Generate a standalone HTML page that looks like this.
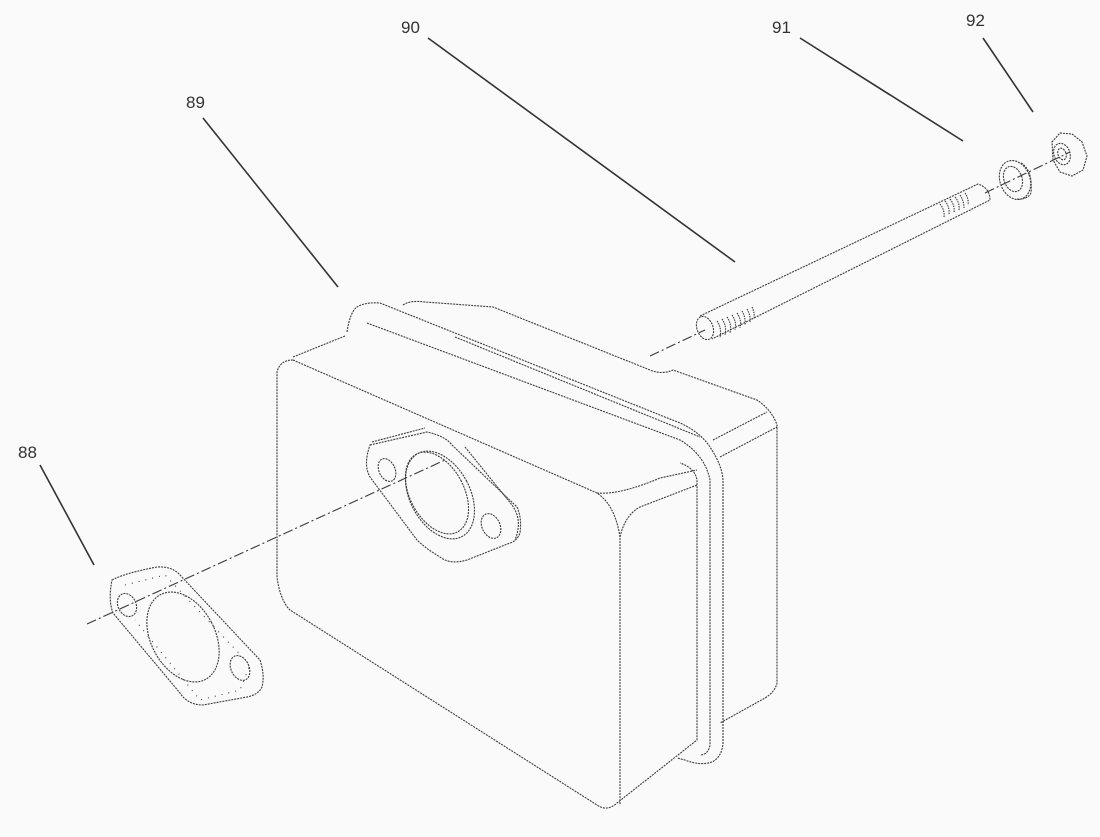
<!DOCTYPE html>
<html><head><style>
html,body{margin:0;padding:0;background:#fafafa;}
svg{display:block}
text{font-family:"Liberation Sans",sans-serif;font-size:17px;fill:#333}
</style></head><body>
<svg width="1100" height="837" viewBox="0 0 1100 837" xmlns="http://www.w3.org/2000/svg">
<rect width="1100" height="837" fill="#fafafa"/>
<g fill="none" stroke="#3a3a3a" stroke-width="1.1" stroke-dasharray="2,1">
<!-- back body -->
<path d="M403,305 Q410,300 425,302 L493,307 L650,370 Q662,375 673,370 L757,400 Q772,410 777,425 L777,683 Q775,692 765,698 L720,723"/>
<path d="M713,440 L767,412"/><path d="M720,457 L777,427"/>
<!-- flange outer -->
<path d="M347,332 Q350,312 357,307 Q365,302 380,303 L680,423 Q700,432 710,447 Q722,465 723,480 L723,743 Q722,757 712,762 Q700,766 685,760 L677,758"/>
<!-- flange inner -->
<path d="M367,323 L680,440 Q705,455 710,480 L710,745 Q708,755 700,755"/>
<path d="M345,336 L293,357"/>
<path d="M455,337 L700,437"/>
<!-- front face -->
<path d="M293,360 Q280,360 277,372 L277,577 Q280,600 290,610 L597,805 Q607,812 617,803 L697,740 L697,480 Q695,468 680,463"/>
<path d="M293,360 L597,493 Q615,505 620,537 L620,805"/>
<path d="M597,493 Q620,495 660,478 L697,470"/>
<path d="M620,537 Q625,515 640,507 L697,485"/>
<!-- outlet flange -->
<path d="M370,445 L427,432 Q445,436 452,445 L517,507 Q522,518 520,533 Q517,541 510,543 L467,560 Q450,565 440,557 Q425,548 417,540 L370,477 Q363,465 370,445 Z"/>
<path d="M372,442 L425,428"/>
<path d="M465,447 L512,505 Q523,520 515,540"/>
<ellipse cx="440" cy="495" rx="30" ry="47" transform="rotate(-28 440 495)"/>
<ellipse cx="437" cy="493" rx="27" ry="44" transform="rotate(-28 437 493)"/>
<ellipse cx="387" cy="470" rx="8" ry="12" transform="rotate(-25 387 470)"/>
<ellipse cx="491" cy="526" rx="9" ry="13" transform="rotate(-25 491 526)"/>
<!-- gasket -->
<path d="M112,580 Q125,573 157,567 Q172,566 180,575 L260,660 Q265,675 262,687 Q258,695 247,697 L203,705 Q188,705 180,693 L113,613 Q108,600 112,580 Z"/>
<ellipse cx="183" cy="637" rx="32" ry="48" transform="rotate(-28 183 637)"/>
<ellipse cx="127" cy="605" rx="9" ry="12" transform="rotate(-25 127 605)"/>
<ellipse cx="240" cy="668" rx="9" ry="13" transform="rotate(-25 240 668)"/>
<g stroke-dasharray="1,6"><path d="M125,585 L165,575 L250,665 L240,690 L200,700 L135,620"/></g>
<!-- centerlines -->
<path d="M87,624 L445,460" stroke-dasharray="10,3,2,3"/>
<path d="M650,356 L705,330" stroke-dasharray="10,3,2,3"/>
<path d="M985,193 L1070,152" stroke-dasharray="10,3,2,3"/>
<!-- bolt -->
<ellipse cx="705" cy="328" rx="8" ry="12" transform="rotate(-20 705 328)"/>
<path d="M700,316 L978,184 Q990,188 990,200 L712,339"/>
<g stroke-dasharray="1.5,1">
<path d="M717,321 q5,7 3,17"/><path d="M722,319 q5,7 3,16"/><path d="M727,317 q5,7 3,16"/><path d="M732,315 q5,7 3,15"/><path d="M737,313 q5,7 3,15"/><path d="M742,311 q4,7 3,14"/><path d="M747,309 q4,7 3,13"/><path d="M752,307 q3,6 2,12"/>
<path d="M940,204 q5,6 4,14"/><path d="M945,201 q5,6 4,14"/><path d="M950,199 q5,6 4,14"/><path d="M955,197 q5,6 4,13"/><path d="M960,195 q4,6 4,13"/><path d="M965,193 q4,6 3,12"/>
</g>
<!-- washer -->
<ellipse cx="1015" cy="180" rx="15" ry="20" transform="rotate(-20 1015 180)"/>
<ellipse cx="1013" cy="179" rx="9" ry="13" transform="rotate(-20 1013 179)"/>
<path d="M1021,163 Q1033,170 1031,193 Q1027,200 1017,199"/>
<!-- nut -->
<path d="M1052,142 L1060,133 L1072,134 L1082,142 L1087,156 L1083,170 L1072,176 L1060,172 L1053,160 Z"/>
<ellipse cx="1062" cy="154" rx="8" ry="11" transform="rotate(-20 1062 154)"/>
<ellipse cx="1062" cy="154" rx="4" ry="6" transform="rotate(-20 1062 154)"/>
</g>
<!-- leaders -->
<g stroke="#333" stroke-width="1.6">
<line x1="40" y1="465" x2="94" y2="565"/>
<line x1="203" y1="118" x2="338" y2="287"/>
<line x1="428" y1="38" x2="735" y2="262"/>
<line x1="800" y1="38" x2="963" y2="141"/>
<line x1="983" y1="38" x2="1033" y2="112"/>
</g>
<text x="18" y="458">88</text>
<text x="186" y="108">89</text>
<text x="401" y="33">90</text>
<text x="772" y="33">91</text>
<text x="966" y="26">92</text>
</svg>
</body></html>
